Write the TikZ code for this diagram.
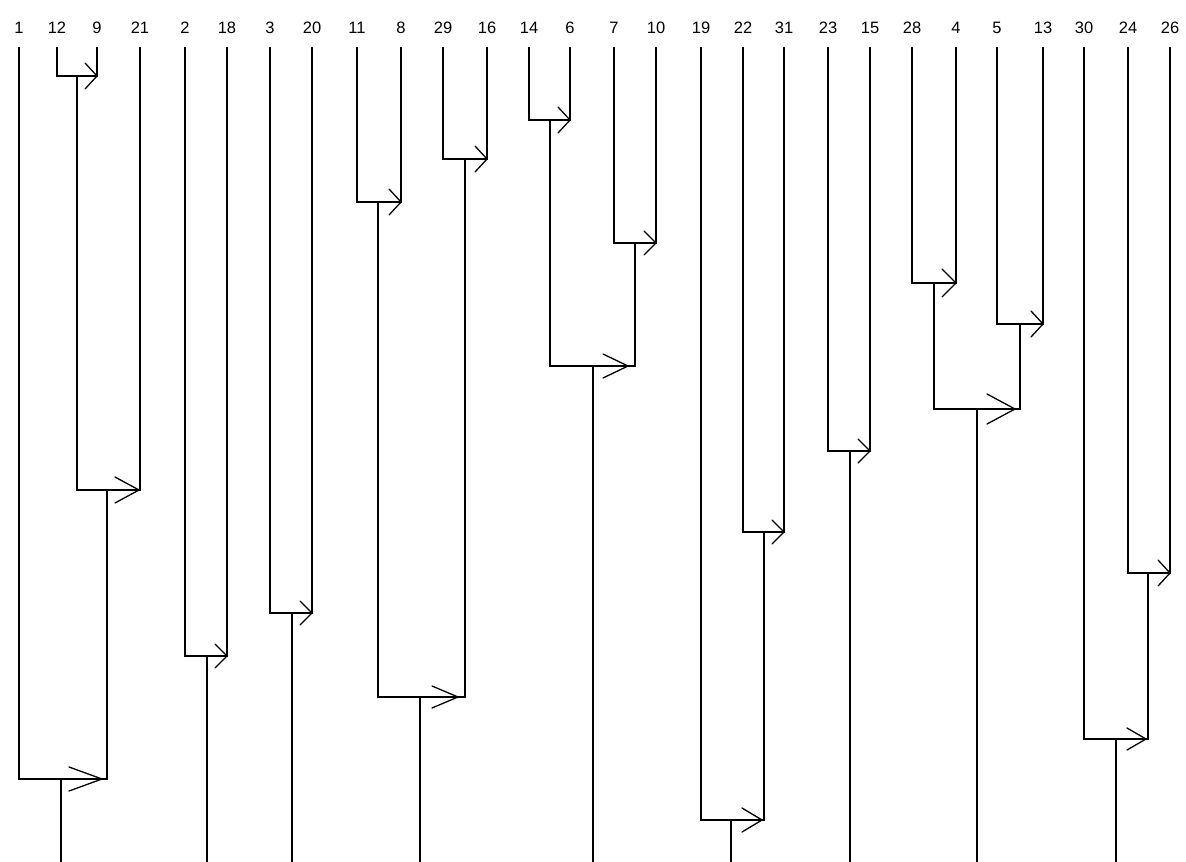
\documentclass[tikz,border=0pt]{standalone}
\usepackage{fontspec}
\setmainfont{Liberation Sans}
\usetikzlibrary{calc}
\newcommand\arrhd[5]{%
  \draw[hd] ($(#1 -| #2)+(-#3-#5,-#4)$) -- ($(#1 -| #2)+(-#5,0)$) -- ($(#1 -| #2)+(-#3-#5,#4)$);}
\begin{document}
\begin{tikzpicture}[x=1pt,y=-1pt,
  lbl/.style={font=\fontsize{16.5}{18}\selectfont, inner sep=0pt},
  tree/.style={line width=1.7pt, line cap=butt, line join=miter},
  hd/.style={line width=1.3pt, line cap=round, line join=miter}]
\useasboundingbox (0,0) rectangle (1186,862);
\fill[white] (0,0) rectangle (1186,862);
% leaves
\foreach \n/\x in {1/19, 12/57, 9/97, 21/140, 2/185, 18/227, 3/270, 20/312,
  11/357, 8/401, 29/443, 16/487, 14/529, 6/570, 7/614, 10/656, 19/701,
  22/743, 31/784, 23/828, 15/870, 28/912, 4/956, 5/997, 13/1043, 30/1084,
  24/1128, 26/1170}{
  \node[lbl] (l\n) at (\x,28) {\n};
  \coordinate (t\n) at (\x,47);
}
% merge points (stem x, merge height)
\coordinate (A) at (77,76);
\coordinate (B) at (107,490);
\coordinate (C) at (61,779);
\coordinate (D) at (207,656);
\coordinate (E) at (292,613);
\coordinate (F) at (378,202);
\coordinate (G) at (465,159);
\coordinate (H) at (420,697);
\coordinate (I) at (550,120);
\coordinate (J) at (635,243);
\coordinate (K) at (593,366);
\coordinate (L) at (764,532);
\coordinate (M) at (731,820);
\coordinate (N) at (850,451);
\coordinate (O) at (934,283);
\coordinate (P) at (1020,324);
\coordinate (Q) at (977,409);
\coordinate (R) at (1148,573);
\coordinate (S) at (1116,739);
% bottom ends
\foreach \r/\x in {C/61, D/207, E/292, H/420, K/593, M/731, N/850, Q/977, S/1116}{
  \coordinate (\r b) at (\x,862);
}
% connectors
\draw[tree] (t12) |- (A) -| (t9);
\draw[tree] (A) |- (B) -| (t21);
\draw[tree] (t1) |- (C) -| (B);
\draw[tree] (t2) |- (D) -| (t18);
\draw[tree] (t3) |- (E) -| (t20);
\draw[tree] (t11) |- (F) -| (t8);
\draw[tree] (t29) |- (G) -| (t16);
\draw[tree] (F) |- (H) -| (G);
\draw[tree] (t14) |- (I) -| (t6);
\draw[tree] (t7) |- (J) -| (t10);
\draw[tree] (I) |- (K) -| (J);
\draw[tree] (t22) |- (L) -| (t31);
\draw[tree] (t19) |- (M) -| (L);
\draw[tree] (t23) |- (N) -| (t15);
\draw[tree] (t28) |- (O) -| (t4);
\draw[tree] (t5) |- (P) -| (t13);
\draw[tree] (O) |- (Q) -| (P);
\draw[tree] (t24) |- (R) -| (t26);
\draw[tree] (t30) |- (S) -| (R);
\foreach \r in {C, D, E, H, K, M, N, Q, S}{
  \draw[tree] (\r) -- (\r b);
}
% arrowheads
\arrhd{A}{t9}{12}{13}{0}
\arrhd{B}{t21}{24}{13}{1}
\arrhd{C}{B}{33}{12}{5}
\arrhd{D}{t18}{12}{12}{0}
\arrhd{E}{t20}{12}{12}{0}
\arrhd{F}{t8}{12}{13}{0}
\arrhd{G}{t16}{12}{13}{0}
\arrhd{H}{G}{26}{11}{7}
\arrhd{I}{t6}{12}{13}{0}
\arrhd{J}{t10}{12}{12}{0}
\arrhd{K}{J}{25}{12}{7}
\arrhd{L}{t31}{12}{12}{0}
\arrhd{M}{L}{20}{12}{2}
\arrhd{N}{t15}{12}{12}{0}
\arrhd{O}{t4}{14}{14}{0}
\arrhd{P}{t13}{12}{13}{0}
\arrhd{Q}{P}{28}{15}{5}
\arrhd{R}{t26}{12}{13}{0}
\arrhd{S}{R}{19}{11}{2}
\end{tikzpicture}
\end{document}
